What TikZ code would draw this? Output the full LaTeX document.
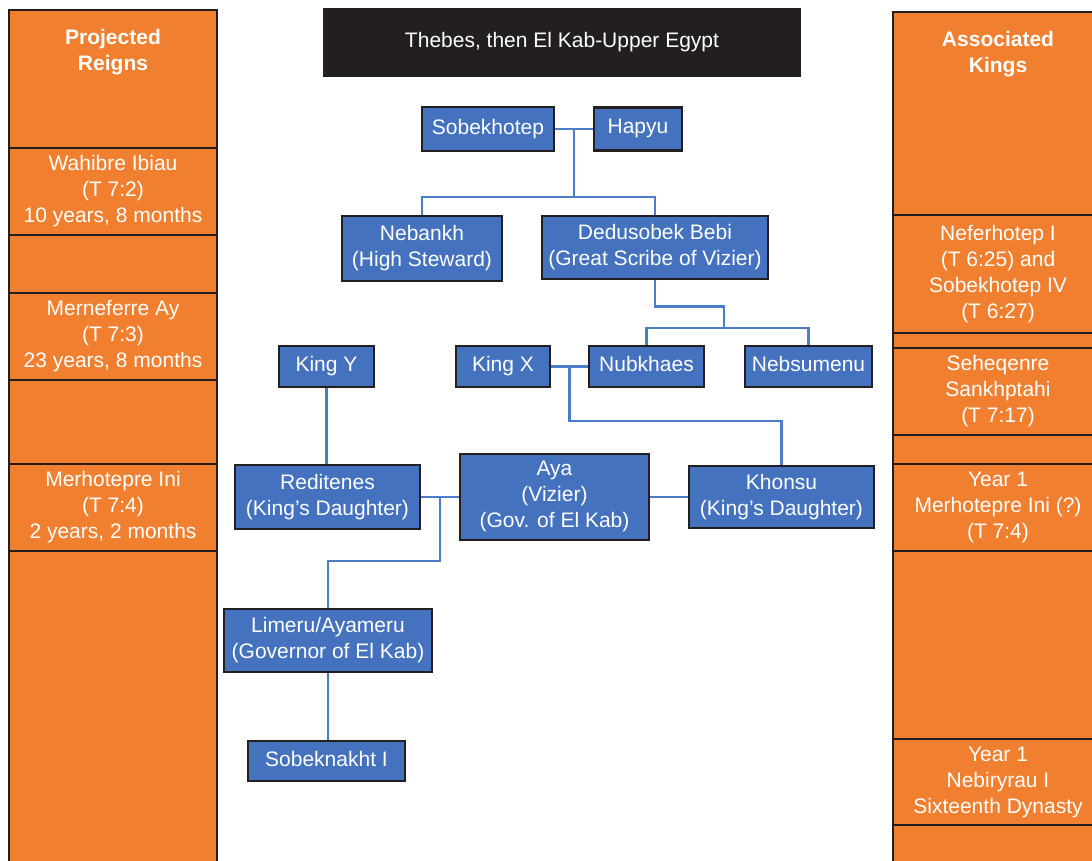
\documentclass[tikz,border=0pt]{standalone}
\usepackage{fontspec}
\setmainfont{Liberation Sans}
\usetikzlibrary{calc}
\definecolor{reignorange}{RGB}{240,128,48}
\definecolor{famblue}{RGB}{68,114,190}
\definecolor{linkblue}{RGB}{76,125,200}
\definecolor{edgegray}{RGB}{35,31,32}
\tikzset{
  person/.style={draw=edgegray, fill=famblue, line width=2.8pt, text=white, align=center, inner sep=0pt, text depth=5pt, font=\fontsize{21}{26}\selectfont},
  cell/.style={draw=edgegray, fill=reignorange, line width=2.5pt, text=white, align=center, inner sep=0pt, font=\fontsize{21}{26}\selectfont},
  headtext/.style={anchor=north, text=white, align=center, yshift=-17pt, font=\fontsize{21}{26}\selectfont\bfseries},
  link/.style={draw=linkblue, line width=2.2pt},
}

\begin{document}
\begin{tikzpicture}[x=1pt,y=-1pt]
                \useasboundingbox (0,0) rectangle (1092,861);
                \clip (0,0) rectangle (1092,861);
                % reigns column
                \node[cell, minimum width=208pt, minimum height=138pt, label={[headtext]north:{Projected\\Reigns}}] (reignhead) at (113,79) {};
                \node[cell, minimum width=208pt, minimum height=87pt] (reign1) at (113,191.5) {Wahibre Ibiau\\(T 7:2)\\10 years, 8 months};
                \node[cell, minimum width=208pt, minimum height=58pt] (rgap1) at (113,264) {};
                \node[cell, minimum width=208pt, minimum height=87pt] (reign2) at (113,336.5) {Merneferre Ay\\(T 7:3)\\23 years, 8 months};
                \node[cell, minimum width=208pt, minimum height=84pt] (rgap2) at (113,422) {};
                \node[cell, minimum width=208pt, minimum height=87pt] (reign3) at (113,507.5) {Merhotepre Ini\\(T 7:4)\\2 years, 2 months};
                \node[cell, minimum width=208pt, minimum height=330pt] (rgap3) at (113,716) {};
                % kings column
                \node[cell, minimum width=210pt, minimum height=203pt, label={[headtext]north:{Associated\\Kings}}] (kinghead) at (998,113.5) {};
                \node[cell, minimum width=210pt, minimum height=118pt] (king1) at (998,274) {Neferhotep I\\(T 6:25) and\\Sobekhotep IV\\(T 6:27)};
                \node[cell, minimum width=210pt, minimum height=15pt] (kgap1) at (998,340.5) {};
                \node[cell, minimum width=210pt, minimum height=87pt] (king2) at (998,391.5) {Seheqenre\\Sankhptahi\\(T 7:17)};
                \node[cell, minimum width=210pt, minimum height=29pt] (kgap2) at (998,449.5) {};
                \node[cell, minimum width=210pt, minimum height=87pt] (king3) at (998,507.5) {Year 1\\Merhotepre Ini (?)\\(T 7:4)};
                \node[cell, minimum width=210pt, minimum height=188pt] (kgap3) at (998,645) {};
                \node[cell, minimum width=210pt, minimum height=86pt] (king4) at (998,782) {Year 1\\Nebiryrau I\\Sixteenth Dynasty};
                \node[cell, minimum width=210pt, minimum height=56pt] (kgap4) at (998,853) {};
                % title
                \node[fill=edgegray, text=white, minimum width=478pt, minimum height=69pt, font=\fontsize{21}{26}\selectfont] (title) at (562,42.5) {Thebes, then El Kab-Upper Egypt};
                % family
                \node[person, minimum width=132pt, minimum height=44pt] (sobek) at (488,129) {Sobekhotep};
                \node[person, minimum width=88pt, minimum height=43pt] (hapyu) at (638,129) {Hapyu};
                \node[person, minimum width=160pt, minimum height=65pt] (nebankh) at (422,248.5) {Nebankh\\(High Steward)};
                \node[person, minimum width=226pt, minimum height=63pt] (dedu) at (655,247.5) {Dedusobek Bebi\\(Great Scribe of Vizier)};
                \node[person, minimum width=95pt, minimum height=41pt] (kingy) at (326.5,366.5) {King Y};
                \node[person, minimum width=94pt, minimum height=41pt] (kingx) at (503,366.5) {King X};
                \node[person, minimum width=115pt, minimum height=41pt] (nubk) at (646.5,366.5) {Nubkhaes};
                \node[person, minimum width=127pt, minimum height=41pt] (nebsu) at (808.5,366.5) {Nebsumenu};
                \node[person, minimum width=185pt, minimum height=64pt] (redit) at (327.5,497) {Reditenes\\(King’s Daughter)};
                \node[person, minimum width=189pt, minimum height=86pt] (aya) at (554.5,497) {Aya\\(Vizier)\\(Gov. of El Kab)};
                \node[person, minimum width=185pt, minimum height=62pt] (khonsu) at (781.5,497) {Khonsu\\(King’s Daughter)};
                \node[person, minimum width=208pt, minimum height=63pt] (limeru) at (328,640.5) {Limeru/Ayameru\\(Governor of El Kab)};
                \node[person, minimum width=157pt, minimum height=40pt] (sobekn) at (326.5,761) {Sobeknakht I};
                % connectors
                \coordinate (sobekmid) at ($(sobek.east)!0.5!(hapyu.west)$);
                \coordinate (kxmid) at ($(kingx.east)!0.5!(nubk.west)$);
                \coordinate (ayamid) at ($(redit.east)!0.5!(aya.west)$);
                \draw[link] (sobek.east)--(hapyu.west);
                \draw[link] (sobekmid)--++(0,68)coordinate(sobekfork);
                \draw[link] (nebankh.north)|-(sobekfork)-|(dedu.north);
                \draw[link] (dedu.south)--++(0,26)-|(724,328)coordinate(dedufork);
                \draw[link] (nubk.north)|-(dedufork)-|(nebsu.north);
                \draw[link] (kingx.east)--(nubk.west);
                \draw[link] (kxmid)--++(0,54.5)-|(khonsu.north);
                \draw[link] (kingy.south)--(kingy.south|-redit.north);
                \draw[link] (redit.east)--(aya.west);
                \draw[link] (aya.east)--(khonsu.west);
                \draw[link] (ayamid)--++(0,64)-|(limeru.north);
                \draw[link] (limeru.south)--(limeru.south|-sobekn.north);
            \end{tikzpicture}
\end{document}
